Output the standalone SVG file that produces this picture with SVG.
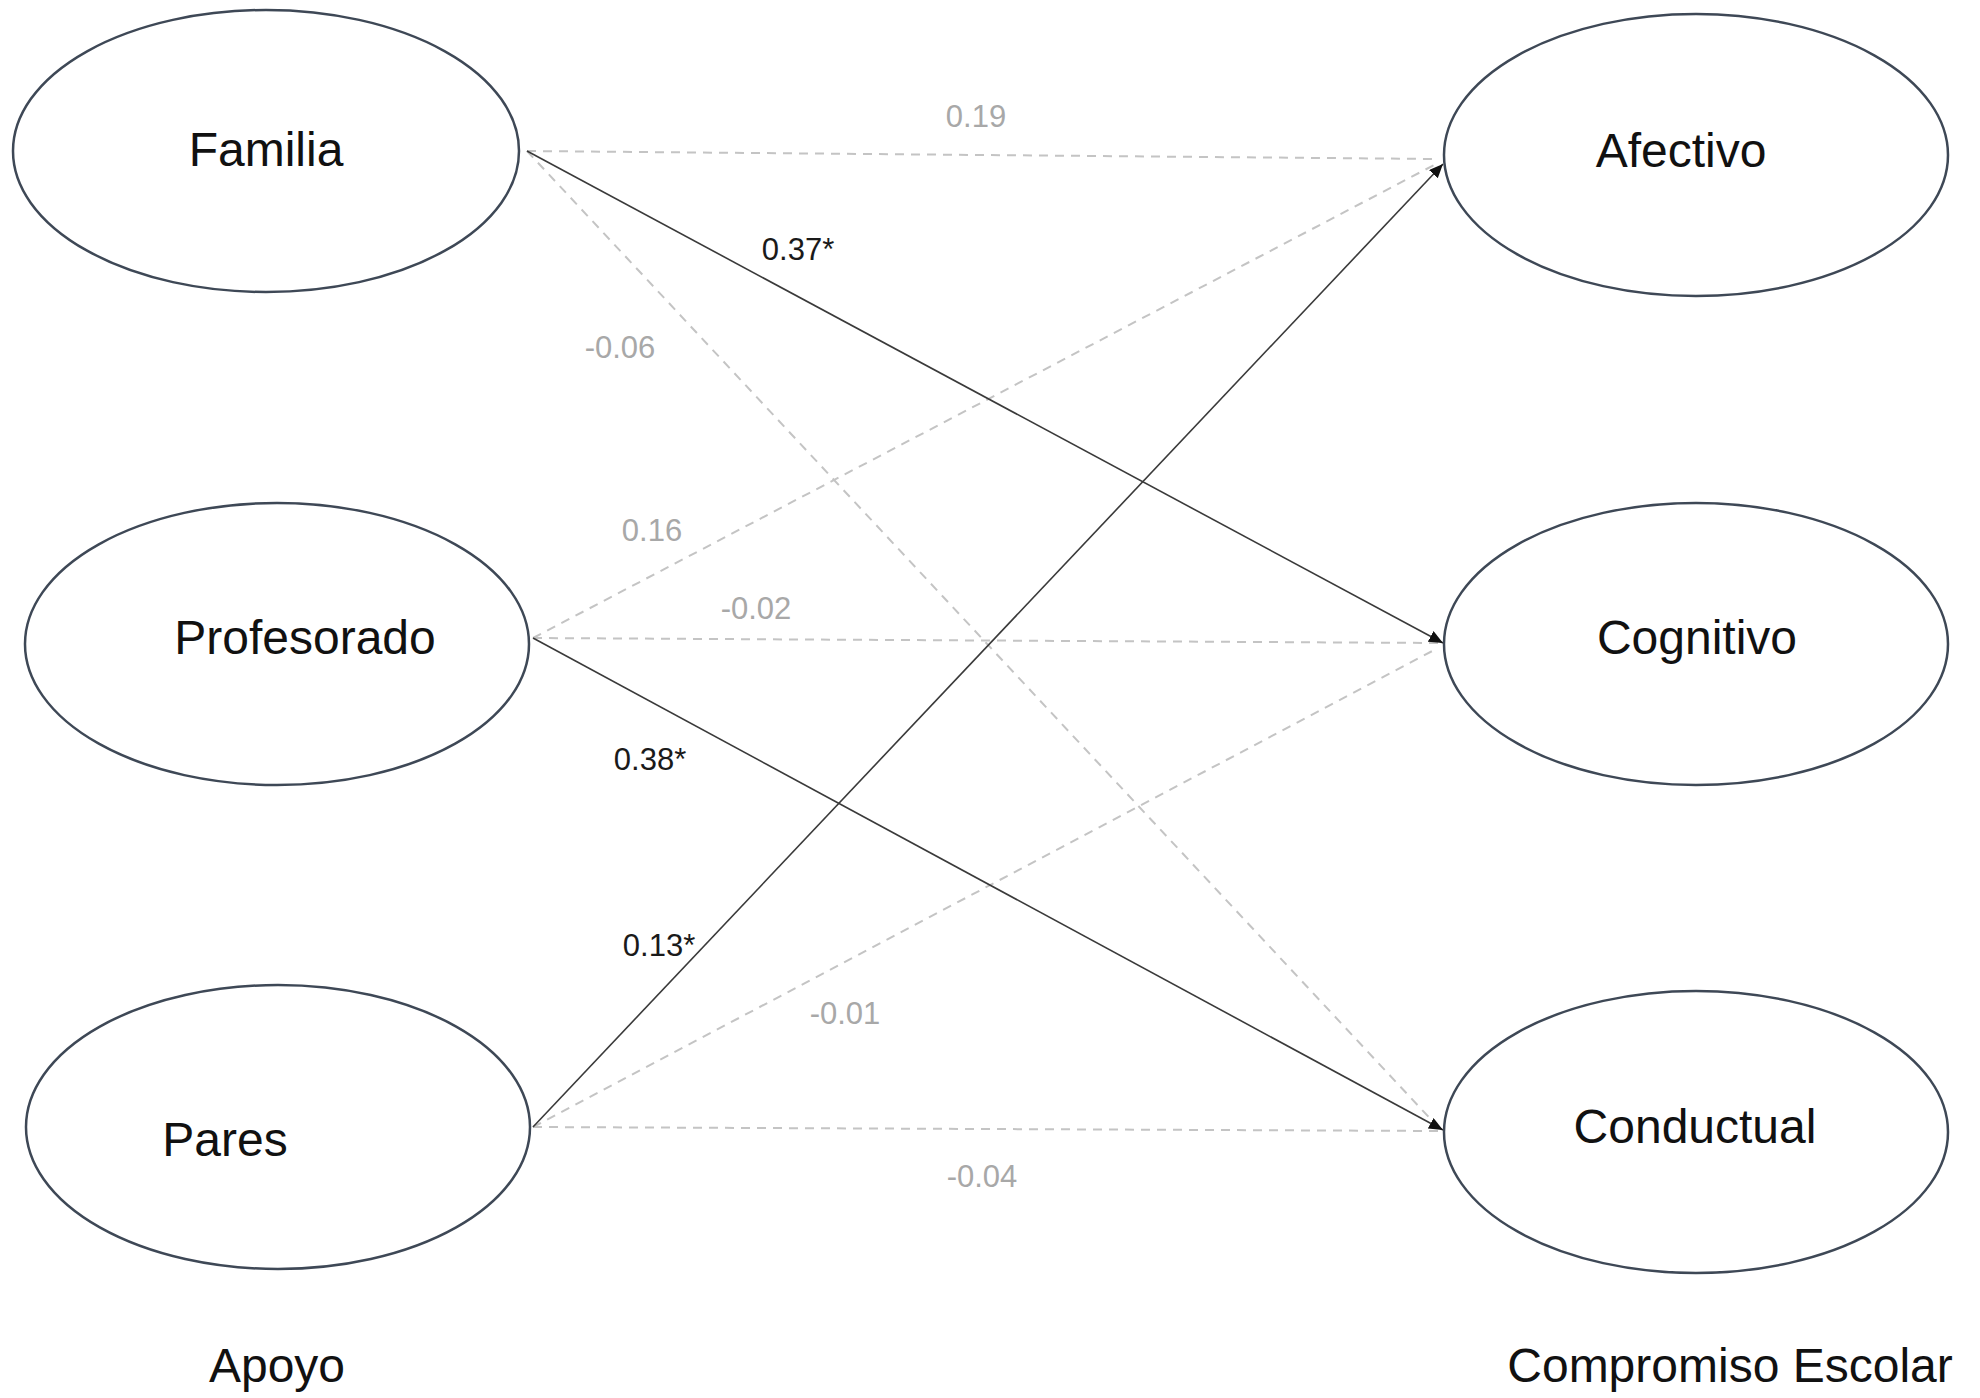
<svg xmlns="http://www.w3.org/2000/svg" width="1980" height="1398" viewBox="0 0 1980 1398">
<style>
.node ellipse{fill:#fff;stroke:#3e4856;stroke-width:2.5}
.node text{font-family:"Liberation Sans",Arial,sans-serif;font-size:48px;fill:#111;text-anchor:middle}
.cap{font-family:"Liberation Sans",Arial,sans-serif;font-size:48px;fill:#111;text-anchor:middle}
.solid{stroke:#3a3a3a;stroke-width:1.6;fill:none}
.dash{stroke:#c4c4c4;stroke-width:2;stroke-dasharray:9 7;fill:none}
.lbl{font-family:"Liberation Sans",Arial,sans-serif;font-size:31px;text-anchor:middle}
.sig{fill:#1a1a1a}
.ns{fill:#a8a8a8}
</style>
<defs>
<marker id="arr" markerUnits="userSpaceOnUse" markerWidth="16" markerHeight="14" refX="14" refY="6" orient="auto">
<path d="M0,0 L14,6 L0,12 Z" fill="#111"/>
</marker>
</defs>
<rect width="1980" height="1398" fill="#fff"/>
<g id="connectors">
<line class="dash" x1="527" y1="151" x2="1436" y2="159"/>
<line class="dash" x1="527" y1="151" x2="1438" y2="1127"/>
<line class="dash" x1="533" y1="638" x2="1436" y2="164"/>
<line class="dash" x1="533" y1="638" x2="1438" y2="643"/>
<line class="dash" x1="533" y1="1127" x2="1438" y2="648"/>
<line class="dash" x1="533" y1="1127" x2="1438" y2="1131"/>
<line class="solid" x1="527" y1="151" x2="1443" y2="643" marker-end="url(#arr)"/>
<line class="solid" x1="533" y1="638" x2="1443" y2="1130" marker-end="url(#arr)"/>
<line class="solid" x1="533" y1="1127" x2="1443" y2="164" marker-end="url(#arr)"/>
</g>
<g id="labels">
<text class="lbl ns" x="976" y="127">0.19</text>
<text class="lbl sig" x="798" y="260">0.37*</text>
<text class="lbl ns" x="620" y="358">-0.06</text>
<text class="lbl ns" x="652" y="541">0.16</text>
<text class="lbl ns" x="756" y="619">-0.02</text>
<text class="lbl sig" x="650" y="770">0.38*</text>
<text class="lbl sig" x="659" y="956">0.13*</text>
<text class="lbl ns" x="845" y="1024">-0.01</text>
<text class="lbl ns" x="982" y="1187">-0.04</text>
</g>
<g id="familia" class="node">
<ellipse cx="266" cy="151" rx="253" ry="141"/>
<text x="266" y="166">Familia</text>
</g>
<g id="profesorado" class="node">
<ellipse cx="277" cy="644" rx="252" ry="141"/>
<text x="305" y="654">Profesorado</text>
</g>
<g id="pares" class="node">
<ellipse cx="278" cy="1127" rx="252" ry="142"/>
<text x="225" y="1156">Pares</text>
</g>
<g id="afectivo" class="node">
<ellipse cx="1696" cy="155" rx="252" ry="141"/>
<text x="1681" y="167">Afectivo</text>
</g>
<g id="cognitivo" class="node">
<ellipse cx="1696" cy="644" rx="252" ry="141"/>
<text x="1697" y="654">Cognitivo</text>
</g>
<g id="conductual" class="node">
<ellipse cx="1696" cy="1132" rx="252" ry="141"/>
<text x="1695" y="1143">Conductual</text>
</g>
<text class="cap" x="277" y="1382">Apoyo</text>
<text class="cap" x="1730" y="1382">Compromiso Escolar</text>
</svg>
